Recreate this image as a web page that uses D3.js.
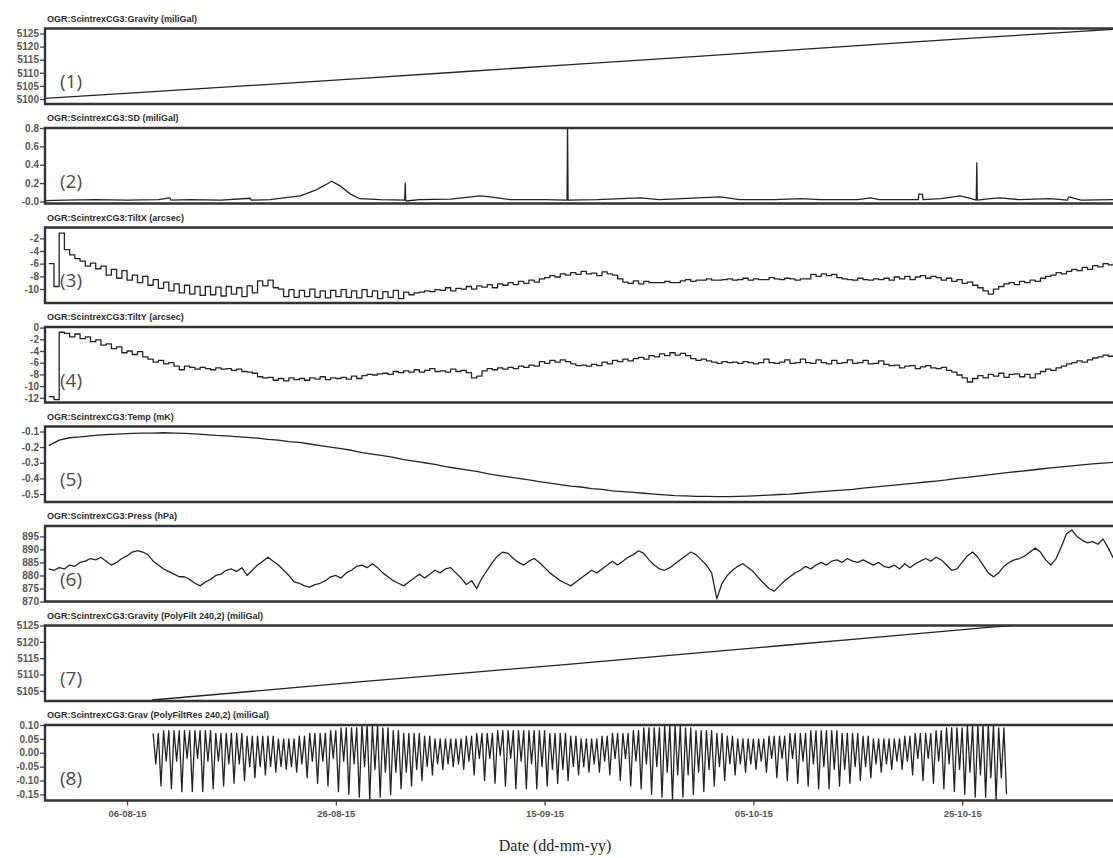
<!DOCTYPE html>
<html>
<head>
<meta charset="utf-8">
<script src="https://cdn.jsdelivr.net/npm/d3@7"></script>
<style>
  body { margin: 0; background: #fff; }
  svg { display: block; }
</style>
</head>
<body>
<svg id="chart" width="1113" height="858"></svg>
<script>

//------------------- data (days counted from 06-08-15 00:00) -------------------

const titles = [
    "OGR:ScintrexCG3:Gravity (miliGal)",
    "OGR:ScintrexCG3:SD (miliGal)",
    "OGR:ScintrexCG3:TiltX (arcsec)",
    "OGR:ScintrexCG3:TiltY (arcsec)",
    "OGR:ScintrexCG3:Temp (mK)",
    "OGR:ScintrexCG3:Press (hPa)",
    "OGR:ScintrexCG3:Gravity (PolyFilt 240,2) (miliGal)",
    "OGR:ScintrexCG3:Grav (PolyFiltRes 240,2) (miliGal)"
];
const panelLabels = ["(1)", "(2)", "(3)", "(4)", "(5)", "(6)", "(7)", "(8)"];

const yDomains = [
    [5098.1, 5126.9], [-0.022, 0.8], [-12.2, -0.3], [-12.8, 0.1],
    [-0.551, -0.068], [870, 899], [5101.9, 5125], [-0.172, 0.10]
];
const yTicks = [
    [5100, 5105, 5110, 5115, 5120, 5125],
    [0, 0.2, 0.4, 0.6, 0.8],
    [-2, -4, -6, -8, -10],
    [0, -2, -4, -6, -8, -10, -12],
    [-0.1, -0.2, -0.3, -0.4, -0.5],
    [870, 875, 880, 885, 890, 895],
    [5105, 5110, 5115, 5120, 5125],
    [0.10, 0.05, 0.00, -0.05, -0.10, -0.15]
];
const yTickLabels = [
    ["5100", "5105", "5110", "5115", "5120", "5125"],
    ["-0.0", "0.2", "0.4", "0.6", "0.8"],
    ["-2", "-4", "-6", "-8", "-10"],
    ["0", "-2", "-4", "-6", "-8", "-10", "-12"],
    ["-0.1", "-0.2", "-0.3", "-0.4", "-0.5"],
    ["870", "875", "880", "885", "890", "895"],
    ["5105", "5110", "5115", "5120", "5125"],
    ["0.10", "0.05", "0.00", "-0.05", "-0.10", "-0.15"]
];

const xTickDays = [0, 20, 40, 60, 80];

// (1) raw gravity
const gravDays   = [-7.9, 2.5, 12.5, 22.5, 32.5, 42.5, 52.5, 62.5, 72.5, 82.5, 94.5];
const gravValues = [5100.2, 5102.8, 5105.3, 5107.9, 5110.5, 5113.1, 5115.7, 5118.4, 5121.0, 5123.6, 5126.6];

// (2) standard deviation
const sdDays = [-7.9, -6, -3, 0, 3, 4.1, 4.2, 6, 9, 11.8, 11.9, 13.7, 15, 16.6, 18, 19, 19.6, 20.4, 21.4, 22.3, 24.3,
    26.6, 26.65, 26.7, 26.75, 28, 31, 33.8, 34.8, 36.7, 40, 42.15, 42.2, 42.25, 45, 49.2, 51, 56.8, 58.7, 62, 64.5, 66.4,
    70, 71.2, 72.1, 75.8, 75.85, 76.2, 76.25, 78, 79.8, 80.6, 81.35, 81.4, 81.45, 82.7, 83.6, 85.5, 88.4, 90.1, 90.2, 91.4, 94.5];
const sdValues = [0.01, 0.015, 0.02, 0.015, 0.02, 0.04, 0.015, 0.02, 0.015, 0.035, 0.015, 0.02, 0.04, 0.06, 0.12, 0.18, 0.22, 0.17, 0.08, 0.03, 0.02,
    0.015, 0.2, 0.01, 0.005, 0.02, 0.025, 0.06, 0.05, 0.02, 0.02, 0.015, 0.8, 0.015, 0.02, 0.04, 0.02, 0.05, 0.02, 0.02, 0.03, 0.02,
    0.02, 0.04, 0.02, 0.02, 0.08, 0.08, 0.02, 0.03, 0.06, 0.04, 0.015, 0.42, 0.015, 0.03, 0.04, 0.02, 0.03, 0.015, 0.05, 0.015, 0.02];

// (3) tilt X, every half day from day -7.5
const tiltStart = -7.5;
const tiltXValues = [
    -6.0, -9.6, -1.2, -3.8, -4.6, -5.2, -5.6, -6.4, -5.9, -6.8,
    -6.4, -7.8, -6.9, -8.3, -7.1, -8.6, -7.8, -9.0, -8.0, -9.4,
    -8.5, -9.9, -8.9, -10.3, -9.2, -10.6, -9.4, -10.8, -9.6, -11.0,
    -9.6, -10.9, -9.7, -11.1, -9.6, -10.8, -9.8, -11.2, -9.5, -10.6,
    -8.7, -9.5, -8.6, -9.8, -10.0, -11.2, -10.1, -11.3, -10.2, -11.2,
    -10.0, -11.3, -10.3, -11.4, -10.2, -11.2, -10.1, -11.3, -10.3, -11.4,
    -10.1, -11.2, -10.3, -11.5, -10.4, -11.3, -10.2, -11.5, -10.5, -10.9,
    -10.6, -10.5, -10.3, -10.4, -10.1, -10.2, -9.8, -10.3, -9.9, -10.0,
    -9.6, -10.0, -9.5, -9.7, -9.3, -9.8, -9.2, -9.4, -9.0, -9.3,
    -8.8, -9.1, -8.6, -8.9, -8.4, -8.2, -7.9, -8.1, -7.6, -7.8,
    -7.4, -7.7, -7.2, -7.6, -7.5, -7.9, -7.3, -7.6, -7.8, -8.4,
    -8.9, -9.1, -8.7, -9.2, -8.8, -9.0, -9.0, -9.0, -8.8, -9.0,
    -9.0, -8.7, -8.5, -8.8, -8.6, -8.6, -8.4, -8.6, -8.6, -8.5,
    -8.4, -8.6, -8.5, -8.3, -8.6, -8.4, -8.5, -8.5, -8.2, -8.4,
    -8.5, -8.3, -8.4, -8.6, -8.4, -8.4, -7.7, -8.0, -7.6, -7.9,
    -7.7, -8.2, -8.4, -8.5, -8.6, -8.3, -8.5, -8.6, -8.4, -8.5,
    -8.3, -8.6, -8.1, -8.4, -8.0, -8.5, -8.1, -7.9, -8.3, -8.0,
    -8.2, -8.6, -8.3, -8.8, -8.5, -9.1, -8.9, -9.4, -9.8, -10.3,
    -10.8, -10.0, -9.6, -9.2, -9.0, -9.3, -8.8, -9.0, -8.6, -8.8,
    -8.3, -8.0, -7.8, -7.4, -7.6, -7.2, -6.9, -7.1, -6.6, -6.9,
    -6.3, -6.5, -6.0, -6.2, -5.8
];

// (4) tilt Y, every half day from day -7.5
const tiltYValues = [
    -11.8, -12.3, -0.8, -1.0, -1.6, -1.1, -1.9, -1.6, -2.4, -2.1,
    -3.0, -2.8, -3.6, -3.3, -4.3, -4.0, -4.6, -4.1, -5.0, -5.4,
    -5.9, -5.6, -6.2, -6.0, -6.6, -7.2, -6.6, -6.8, -7.1, -6.8,
    -7.0, -7.2, -6.9, -7.1, -7.0, -7.3, -7.1, -7.5, -7.6, -7.8,
    -8.4, -8.6, -8.5, -9.0, -8.7, -9.1, -8.6, -8.9, -8.7, -9.0,
    -8.6, -8.8, -8.4, -8.9, -8.6, -8.7, -8.5, -8.8, -8.3, -8.7,
    -8.2, -8.0, -8.1, -7.9, -7.8, -8.0, -7.5, -7.7, -7.4, -7.6,
    -7.2, -7.6, -7.3, -7.0, -7.5, -7.4, -7.6, -7.1, -7.5, -7.3,
    -7.7, -8.6, -8.3, -7.4, -7.0, -7.2, -6.9, -7.1, -6.8, -7.0,
    -6.6, -6.8, -6.4, -6.6, -5.8, -6.1, -5.6, -5.9, -5.5, -5.8,
    -6.2, -6.5, -6.4, -6.6, -6.3, -6.5, -5.9, -6.2, -5.6, -5.8,
    -5.4, -5.7, -5.3, -5.1, -5.4, -4.8, -5.0, -4.5, -4.8, -4.3,
    -4.7, -4.4, -4.8, -5.3, -5.6, -5.4, -5.7, -5.9, -6.1, -5.8,
    -6.0, -5.9, -6.1, -5.8, -6.0, -6.2, -6.0, -5.4, -6.0, -6.1,
    -5.9, -5.5, -6.1, -6.0, -5.4, -6.0, -6.1, -5.5, -6.0, -6.2,
    -5.6, -6.1, -6.0, -5.5, -6.1, -6.0, -5.6, -6.2, -6.1, -5.7,
    -6.3, -6.5, -6.4, -6.9, -6.6, -6.5, -7.0, -6.7, -6.5, -6.9,
    -7.0, -6.8, -7.3, -7.6, -8.1, -8.6, -9.3, -8.7, -8.2, -8.6,
    -8.0, -8.3, -7.8, -8.5, -8.0, -7.9, -8.4, -8.0, -8.6, -7.9,
    -7.5, -7.1, -7.3, -6.9, -6.6, -6.2, -6.0, -5.7, -5.9, -5.5,
    -5.2, -5.0, -4.7, -4.9, -4.6
];

// (5) temperature, one value a day from day -7.5
const tempStart = -7.5;
const tempValues = [
    -0.19, -0.155, -0.14, -0.135, -0.128, -0.122, -0.118, -0.115, -0.112, -0.11,
    -0.11, -0.108, -0.11, -0.112, -0.115, -0.12, -0.125, -0.128, -0.133, -0.138,
    -0.143, -0.15, -0.155, -0.165, -0.17, -0.18, -0.19, -0.2, -0.21, -0.22,
    -0.235, -0.245, -0.255, -0.265, -0.28, -0.29, -0.3, -0.31, -0.325, -0.335,
    -0.345, -0.355, -0.37, -0.38, -0.39, -0.4, -0.41, -0.42, -0.43, -0.44,
    -0.45, -0.455, -0.465, -0.47, -0.48, -0.485, -0.49, -0.495, -0.5, -0.505,
    -0.51, -0.512, -0.515, -0.515, -0.517, -0.516, -0.515, -0.513, -0.51, -0.507,
    -0.503, -0.5, -0.495, -0.49, -0.485, -0.48, -0.475, -0.47, -0.462, -0.456,
    -0.45, -0.443, -0.437, -0.43, -0.423, -0.417, -0.41, -0.4, -0.393, -0.385,
    -0.377, -0.37, -0.362, -0.355, -0.348, -0.34, -0.333, -0.326, -0.32, -0.313,
    -0.307, -0.302, -0.297
];

// (6) pressure, every half day from day -7.5
const pressStart = -7.5;
const pressValues = [
    882.5, 882, 883, 882.5, 884, 883.5, 885, 885.5, 886.5, 886,
    887, 885.5, 884, 885, 886.5, 887.5, 889, 889.5, 889, 888,
    885.5, 884, 882.5, 881.5, 880.5, 879.5, 879.5, 878.5, 877, 876,
    877.5, 878.5, 880, 880.5, 882, 882.5, 881.5, 883, 880, 882,
    884, 885.5, 887, 885.5, 884, 882, 880, 877.5, 877, 876,
    875.5, 876.5, 877, 878, 879.5, 880, 879, 881, 882, 883.5,
    884, 883, 884.5, 883, 881, 879.5, 878, 877, 876, 877.5,
    879, 880.5, 879, 880.5, 882, 881, 882.5, 883, 881, 879,
    876.5, 878, 875, 879, 882, 885, 887.5, 889, 888.5, 886.5,
    885, 884, 885.5, 886.5, 885, 883, 881, 879.5, 878, 877,
    876, 877.5, 879, 880.5, 882, 881, 882.5, 884, 885.5, 884,
    885.5, 887, 888, 889.5, 888.5, 886, 884, 882.5, 882, 883,
    884.5, 886, 887.5, 889, 888, 886, 884, 881, 871, 877,
    880, 882, 883.5, 884.5, 883, 881.5, 879, 877, 875, 874,
    876, 878, 879.5, 881, 882, 883.5, 882.5, 884, 885, 884,
    885.5, 886, 885, 886.5, 885.5, 885, 886, 885, 884, 885,
    883.5, 883, 884, 882.5, 884.5, 883, 884.5, 885.5, 886.5, 885.5,
    887, 886, 884, 882, 882.5, 885, 887.5, 889, 887, 884,
    881, 879.5, 881, 883.5, 885, 886, 886.5, 887.5, 889, 890.5,
    889, 886, 884, 886.5, 891, 896, 897.5, 895, 893.5, 892.5,
    893, 892, 894, 890.5, 886.5
];

// (7) gravity polynomial fit
const polyDays   = [2.4, 12.5, 22.5, 32.5, 42.5, 52.5, 62.5, 72.5, 82.5, 84.8];
const polyValues = [5102.2, 5105.0, 5107.8, 5110.5, 5113.2, 5116.0, 5118.8, 5121.6, 5124.4, 5125.0];

// (8) residuals: for each day from day 2.5, crest, small trough, crest, big trough
const resStart = 2.5;
const resPeak = [
    0.07, 0.08, 0.08, 0.08, 0.08, 0.08, 0.07, 0.07, 0.07, 0.06,
    0.06, 0.06, 0.05, 0.05, 0.06, 0.07, 0.07, 0.08, 0.09, 0.09,
    0.10, 0.10, 0.09, 0.08, 0.07, 0.07, 0.06, 0.05, 0.05, 0.05,
    0.06, 0.07, 0.07, 0.08, 0.08, 0.08, 0.08, 0.08, 0.07, 0.07,
    0.06, 0.05, 0.05, 0.06, 0.07, 0.07, 0.08, 0.09, 0.09, 0.10,
    0.10, 0.09, 0.08, 0.08, 0.07, 0.06, 0.05, 0.05, 0.05, 0.06,
    0.06, 0.07, 0.07, 0.08, 0.08, 0.08, 0.07, 0.07, 0.06, 0.05,
    0.05, 0.05, 0.06, 0.07, 0.07, 0.08, 0.09, 0.09, 0.10, 0.10,
    0.10, 0.09
];
const resShallow = [
    -0.04, -0.03, -0.03, -0.02, -0.02, -0.03, -0.03, -0.04, -0.04, -0.05,
    -0.05, -0.05, -0.05, -0.05, -0.04, -0.03, -0.03, -0.02, -0.03, -0.04,
    -0.05, -0.06, -0.07, -0.07, -0.07, -0.06, -0.05, -0.04, -0.04, -0.04,
    -0.03, -0.02, -0.02, -0.01, -0.02, -0.03, -0.04, -0.05, -0.06, -0.06,
    -0.05, -0.05, -0.04, -0.03, -0.02, -0.02, -0.03, -0.04, -0.05, -0.07,
    -0.08, -0.08, -0.07, -0.06, -0.05, -0.04, -0.04, -0.04, -0.03, -0.02,
    -0.02, -0.02, -0.03, -0.04, -0.05, -0.06, -0.06, -0.05, -0.05, -0.04,
    -0.04, -0.03, -0.03, -0.02, -0.02, -0.03, -0.04, -0.06, -0.07, -0.08,
    -0.09, -0.09
];
const resDeep = [
    -0.12, -0.13, -0.14, -0.14, -0.14, -0.13, -0.12, -0.11, -0.10, -0.09,
    -0.08, -0.07, -0.06, -0.07, -0.09, -0.11, -0.12, -0.14, -0.15, -0.16,
    -0.17, -0.16, -0.15, -0.13, -0.12, -0.10, -0.08, -0.06, -0.05, -0.06,
    -0.08, -0.10, -0.11, -0.12, -0.13, -0.13, -0.13, -0.12, -0.11, -0.10,
    -0.08, -0.07, -0.07, -0.08, -0.10, -0.12, -0.13, -0.15, -0.16, -0.17,
    -0.16, -0.15, -0.14, -0.12, -0.10, -0.08, -0.07, -0.06, -0.07, -0.09,
    -0.10, -0.11, -0.12, -0.13, -0.13, -0.12, -0.11, -0.10, -0.09, -0.07,
    -0.06, -0.06, -0.08, -0.10, -0.11, -0.13, -0.14, -0.15, -0.16, -0.16,
    -0.17, -0.15
];

//------------------- helpers -------------------

const dayZero = Date.UTC(2015, 7, 6);
function toDate(d) { return new Date(dayZero + d * 864e5); }

function regular(start, step, values) {
    return values.map((v, i) => [start + i * step, v]);
}
function paired(days, values) {
    return days.map((d, i) => [d, values[i]]);
}
function residuals() {
    let pts = [];
    for (let k = 0; k < resPeak.length; k++) {
        let d = resStart + k;
        pts.push([d, resPeak[k]]);
        pts.push([d + 0.25, resShallow[k]]);
        pts.push([d + 0.5, resPeak[k]]);
        pts.push([d + 0.75, resDeep[k]]);
    }
    return pts;
}

const series = [
    { pts: paired(gravDays, gravValues), curve: d3.curveLinear },
    { pts: paired(sdDays, sdValues), curve: d3.curveLinear },
    { pts: regular(tiltStart, 0.5, tiltXValues), curve: d3.curveStepAfter },
    { pts: regular(tiltStart, 0.5, tiltYValues), curve: d3.curveStepAfter },
    { pts: regular(tempStart, 1, tempValues), curve: d3.curveLinear },
    { pts: regular(pressStart, 0.5, pressValues), curve: d3.curveLinear },
    { pts: paired(polyDays, polyValues), curve: d3.curveLinear },
    { pts: residuals(), curve: d3.curveLinear }
];

//------------------- drawing -------------------

const svg = d3.select("#chart");
const left = 45, right = 1125;
const firstTop = 28.5, panelStep = 99.5, panelH = 75.5;
const sans = "'Liberation Sans', Arial, sans-serif";

const x = d3.scaleTime()
    .domain([toDate(-7.86), toDate(95.6)])
    .range([left, right]);

svg.append("rect").attr("width", 1113).attr("height", 858).attr("fill", "#fff");

for (let i = 0; i < 8; i++) {
    let top = firstTop + i * panelStep;
    let bottom = top + panelH;
    let g = svg.append("g");

    let y = d3.scaleLinear().domain(yDomains[i]).range([bottom, top]);

    g.append("clipPath").attr("id", "clip" + i)
        .append("rect")
        .attr("x", left).attr("y", top - 1)
        .attr("width", right - left).attr("height", panelH + 2);

    // title
    g.append("text")
        .attr("x", left + 2)
        .attr("y", top - 7)
        .attr("font-family", sans)
        .attr("font-weight", "bold")
        .attr("font-size", 9)
        .attr("fill", "#2a2a2a")
        .text(titles[i]);

    // y axis
    let ax = g.append("g")
        .attr("transform", "translate(" + left + ",0)")
        .call(d3.axisLeft(y)
            .tickValues(yTicks[i])
            .tickSize(5)
            .tickPadding(1)
            .tickFormat((d, j) => yTickLabels[i][j]));
    ax.select(".domain").remove();
    ax.selectAll("line").attr("stroke", "#444").attr("stroke-width", 1.3);
    ax.selectAll("text")
        .attr("font-family", sans)
        .attr("font-weight", "bold")
        .attr("font-size", 10)
        .attr("fill", "#555");

    // series
    let line = d3.line()
        .x(p => x(toDate(p[0])))
        .y(p => y(p[1]))
        .curve(series[i].curve);

    g.append("path")
        .attr("clip-path", "url(#clip" + i + ")")
        .attr("d", line(series[i].pts))
        .attr("fill", "none")
        .attr("stroke", "#222")
        .attr("stroke-width", 1.3)
        .attr("stroke-linejoin", "round");

    // frame (right side runs off the picture)
    g.append("path")
        .attr("d", "M" + right + "," + top + "H" + left + "V" + bottom + "H" + right)
        .attr("fill", "none")
        .attr("stroke", "#333")
        .attr("stroke-width", 2.4);

    // panel number
    g.append("text")
        .attr("x", 60)
        .attr("y", bottom - 16)
        .attr("font-family", "'Open Sans', sans-serif")
        .attr("font-size", 19)
        .attr("fill", "#4a4a4a")
        .text(panelLabels[i]);

    // date axis under the last panel
    if (i == 7) {
        let xa = g.append("g")
            .attr("transform", "translate(0," + bottom + ")")
            .call(d3.axisBottom(x)
                .tickValues(xTickDays.map(toDate))
                .tickSize(5)
                .tickPadding(5)
                .tickFormat(d3.utcFormat("%d-%m-%y")));
        xa.select(".domain").remove();
        xa.selectAll("line").attr("stroke", "#444").attr("stroke-width", 1.3);
        xa.selectAll("text")
            .attr("font-family", sans)
            .attr("font-weight", "bold")
            .attr("font-size", 9.5)
            .attr("fill", "#555");
    }
}

svg.append("text")
    .attr("x", 555)
    .attr("y", 851)
    .attr("text-anchor", "middle")
    .attr("font-family", "'Liberation Serif', 'Times New Roman', serif")
    .attr("font-size", 16)
    .attr("fill", "#222")
    .text("Date (dd-mm-yy)");

</script>
</body>
</html>
